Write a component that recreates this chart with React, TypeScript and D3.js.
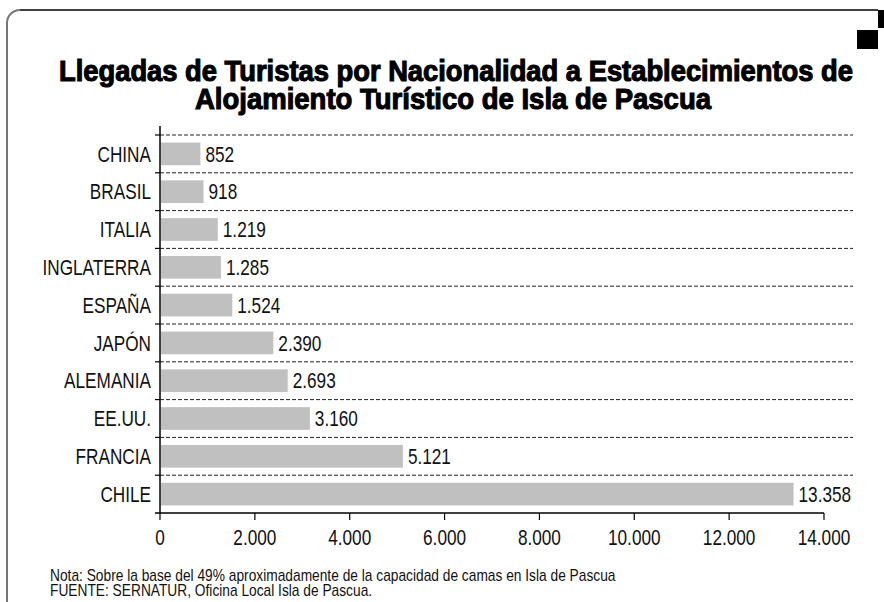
import React from 'react'
import * as d3 from 'd3'

// datos: llegadas de turistas por nacionalidad
const countries = ['CHINA', 'BRASIL', 'ITALIA', 'INGLATERRA', 'ESPAÑA', 'JAPÓN', 'ALEMANIA', 'EE.UU.', 'FRANCIA', 'CHILE']
const arrivals = [852, 918, 1219, 1285, 1524, 2390, 2693, 3160, 5121, 13358]
const xTicks = [0, 2000, 4000, 6000, 8000, 10000, 12000, 14000]

const titleLines = [
  'Llegadas de Turistas por Nacionalidad a Establecimientos de',
  'Alojamiento Turístico de Isla de Pascua',
]
const notes = [
  'Nota: Sobre la base del 49% aproximadamente de la capacidad de camas en Isla de Pascua',
  'FUENTE: SERNATUR, Oficina Local Isla de Pascua.',
]

const W = 884
const H = 602
const FONT = '"Liberation Sans", Arial, sans-serif'
const NARROW = 0.82 // condensar a lo "Arial Narrow"

const esCL = d3.formatLocale({ decimal: ',', thousands: '.', grouping: [3], currency: ['$', ''] })
const fmt = esCL.format(',d')

// texto angosto: escala horizontal sobre el punto de anclaje
function NText({ x, y, size, anchor = 'start', dy, sx = NARROW, children }: any) {
  return (
    <text transform={`translate(${x},${y}) scale(${sx},1)`} dy={dy} textAnchor={anchor} fontSize={size} fill="#111">
      {children}
    </text>
  )
}

function App() {
  const x = d3.scaleLinear().domain([0, 14000]).range([160, 824])
  const y = d3.scaleBand<string>().domain(countries).range([135, 513]).paddingInner(0.4).paddingOuter(0.2)
  const step = y.step()
  const bandTop = (i: number) => 135 + i * step

  return (
    <svg width={W} height={H} style={{ position: 'absolute', left: 0, top: 0, background: '#fff' }} fontFamily={FONT}>
      {/* marco */}
      <path d="M7,612 L7,23 A13,13 0 0 1 20,10" fill="none" stroke="#777" strokeWidth={2} />
      <path d="M20,10 L878,10" fill="none" stroke="#000" strokeWidth={1.5} />
      <rect x={878} y={10} width={6} height={18} fill="#000" />
      <rect x={857} y={30} width={21} height={19} fill="#000" />

      {/* titulo */}
      <text x={456} y={81} textAnchor="middle" fontSize={29} fontWeight="bold" fill="#000" stroke="#000" strokeWidth={1.1}
        textLength={794} lengthAdjust="spacingAndGlyphs">{titleLines[0]}</text>
      <text x={453} y={109} textAnchor="middle" fontSize={29} fontWeight="bold" fill="#000" stroke="#000" strokeWidth={1.1}
        textLength={516} lengthAdjust="spacingAndGlyphs">{titleLines[1]}</text>

      {/* lineas de grilla punteadas */}
      {countries.map((c, i) => (
        <g key={'g' + c}>
          <line x1={160} x2={853} y1={bandTop(i)} y2={bandTop(i)} stroke="#222" strokeWidth={1} strokeDasharray="4,2" />
          <line x1={155} x2={160} y1={bandTop(i)} y2={bandTop(i)} stroke="#000" strokeWidth={1.2} />
        </g>
      ))}

      {/* barras */}
      {countries.map((c, i) => {
        const cy = (y(c) as number) + y.bandwidth() / 2
        return (
          <g key={c}>
            <rect x={x(0) + 1} y={y(c)} width={x(arrivals[i]) - x(0) - 1} height={y.bandwidth()} fill="#c0c0c0" />
            <NText x={x(arrivals[i]) + 5} y={cy} dy="0.36em" size={21.5} sx={0.8}>{fmt(arrivals[i])}</NText>
            <NText x={151} y={cy} dy="0.36em" size={21.5} sx={0.8} anchor="end">{c}</NText>
          </g>
        )
      })}

      {/* ejes */}
      <line x1={160} x2={160} y1={126} y2={513} stroke="#000" strokeWidth={1.5} />
      <line x1={155} x2={x(14000)} y1={513} y2={513} stroke="#000" strokeWidth={1.5} />
      {xTicks.map((t) => (
        <g key={t}>
          <line x1={x(t)} x2={x(t)} y1={513} y2={520} stroke="#000" strokeWidth={1.2} />
          <NText x={x(t)} y={545} size={21.5} sx={0.8} anchor="middle">{fmt(t)}</NText>
        </g>
      ))}

      {/* notas */}
      {notes.map((n, i) => (
        <NText key={i} x={50} y={581 + i * 15} size={16} sx={0.86}>{n}</NText>
      ))}
    </svg>
  )
}

export default App
